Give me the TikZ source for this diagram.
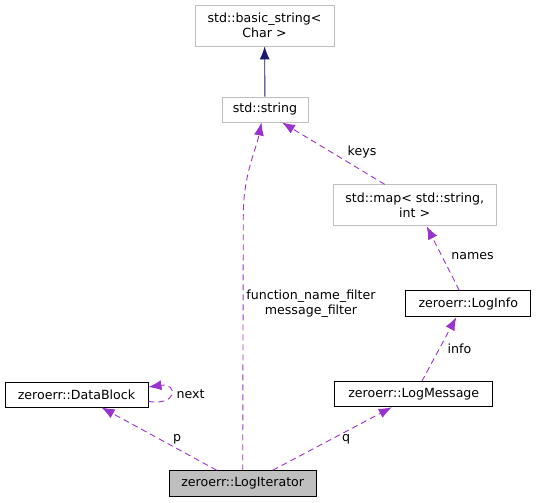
\documentclass[tikz,border=0pt]{standalone}
\usepackage{fontspec}
\setmainfont{DejaVu Sans}
\usetikzlibrary{arrows.meta}
\definecolor{edgepurple}{HTML}{9A32CD}
\definecolor{edgenavy}{HTML}{191970}
\definecolor{boxgray}{HTML}{BFBFBF}
\tikzset{
  box/.style={draw=black, line width=0.9pt, inner sep=0pt, align=center, font=\fontsize{12.6}{14.5}\selectfont},
  graybox/.style={box, draw=boxgray},
  mainbox/.style={box, fill=boxgray, draw=black},
  edge/.style={draw=edgepurple, line width=0.9pt, dash pattern=on 6pt off 4pt, -{Latex[length=13pt,width=10pt]}},
  inherit/.style={draw=edgenavy, line width=0.9pt, -{Latex[length=13pt,width=10pt]}},
  lbl/.style={font=\fontsize{12.6}{14.5}\selectfont, align=center, inner sep=0pt}
}
\begin{document}
\begin{tikzpicture}[x=1pt,y=-1pt]
\useasboundingbox (0,0) rectangle (536,503);
\node[graybox, minimum width=139pt, minimum height=41pt] (basic) at (264.5,25.5) {std::basic\_string<\\Char >};
\node[graybox, minimum width=86pt, minimum height=25pt] (string) at (265,109.5) {std::string};
\node[graybox, minimum width=163pt, minimum height=41pt] (map) at (414.7,205.3) {std::map< std::string,\\int >};
\node[box, minimum width=125pt, minimum height=26pt] (loginfo) at (468.3,303.8) {zeroerr::LogInfo};
\node[box, minimum width=158pt, minimum height=25pt] (logmsg) at (413.8,394.3) {zeroerr::LogMessage};
\node[box, minimum width=143pt, minimum height=25pt] (datablock) at (76.5,394.5) {zeroerr::DataBlock};
\node[mainbox, minimum width=147pt, minimum height=26pt] (logiter) at (242.7,483.7) {zeroerr::LogIterator};

\draw[inherit] (string) -- (basic);
\draw[edge] (logiter.north) -- (243.3,215) .. controls (243.3,175) and (256,150) .. ([xshift=-3.5pt]string.south);
\node[lbl] (lfilter) at (311,303.5) {function\_name\_filter\\message\_filter};
\draw[edge] ([xshift=-30pt]map.north) -- ([xshift=17pt]string.south);
\node[lbl] (lkeys) at (362,152.5) {keys};
\draw[edge] ([xshift=-9pt]loginfo.north) -- ([xshift=12pt]map.south);
\node[lbl] (lnames) at (472.5,256.5) {names};
\draw[edge] ([xshift=8pt]logmsg.north) -- ([xshift=-12pt]loginfo.south);
\node[lbl] (linfo) at (459.5,348.5) {info};
\draw[edge] ([xshift=30pt]logiter.north) -- ([xshift=-22pt]logmsg.south);
\node[lbl] (lq) at (346,439) {q};
\draw[edge] ([xshift=-26pt]logiter.north) -- ([xshift=25pt]datablock.south);
\node[lbl] (lp) at (177,439) {p};
\draw[edge] ([yshift=-7pt]datablock.east) .. controls (178,406) and (178,383) .. ([yshift=7.5pt]datablock.east);
\node[lbl] (lnext) at (190.5,394) {next};
\end{tikzpicture}
\end{document}
